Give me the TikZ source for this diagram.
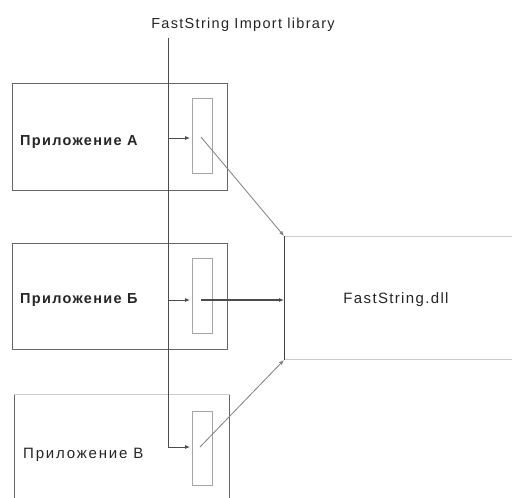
\documentclass[tikz,border=0pt]{standalone}
\usepackage{fontspec}
\setmainfont{Liberation Sans}[LetterSpace=9]
\usetikzlibrary{arrows.meta}

\begin{document}
\begin{tikzpicture}[x=1pt,y=-1pt]
\tikzset{appbox/.style = {shape=rectangle,draw=black!60,line width=1pt,minimum width=215,minimum height=107,anchor=north west,inner sep=0}}
\tikzset{stub/.style = {shape=rectangle,draw=black!35,line width=0.9pt,minimum width=20,minimum height=75,anchor=north west,inner sep=0}}
\tikzset{label/.style = {anchor=west,font=\fontsize{14.5}{16}\selectfont,text=black!85,inner sep=0}}
\tikzset{edge/.style = {-{Latex[length=5pt,width=4pt]},draw=black!70,line width=0.8pt}}
\tikzset{link/.style = {-{Latex[length=5pt,width=4pt]},draw=black!50,line width=0.8pt}}
\clip (0,0) rectangle (512,498);
\fill[white] (0,0) rectangle (512,498);

\node[font=\fontsize{14.5}{16}\selectfont,text=black!85] (title) at (243,25) {FastString Import library};
\coordinate (trunk) at (168,38);

\node[appbox] (appA) at (12,83) {};
\node[appbox,minimum height=106] (appB) at (12,243) {};
\node[appbox,minimum height=130] (appC) at (14,394) {};
\draw[draw=black!20,line width=1pt] (appC.north west) -- (appC.north east);

\node[stub] (stubA) at (192,98) {};
\node[stub] (stubB) at (192,258) {};
\node[stub,minimum height=74] (stubC) at (192,411) {};

\node[label] (nameA) at (20,142) {\bfseries Приложение А};
\node[label] (nameB) at (20,300) {\bfseries Приложение Б};
\node[label,font=\fontsize{15}{16}\selectfont\addfontfeatures{LetterSpace=12}] (nameC) at (23,455) {Приложение В};

\node[shape=rectangle,draw=black!20,line width=1pt,minimum width=260,minimum height=123,anchor=north west] (dll) at (284,236) {};
\draw[draw=black!75,line width=1pt] (dll.north west) -- (dll.south west);
\node[font=\fontsize{15}{16}\selectfont,text=black!85] (dllname) at (396,300) {FastString.dll};

\coordinate (inA) at (190,138);
\coordinate (inB) at (190,300);
\coordinate (inC) at (190,447);

\draw[edge] (trunk) |- (inC);
\draw[edge] (trunk |- inA) -- (inA);
\draw[edge] (trunk |- inB) -- (inB);

\draw[link] (201,137) -- (dll.north west);
\draw[edge,line width=1.1pt] (201,300) -- (dll.west |- inB);
\draw[link] (200,447) -- (dll.south west);
\end{tikzpicture}
\end{document}
